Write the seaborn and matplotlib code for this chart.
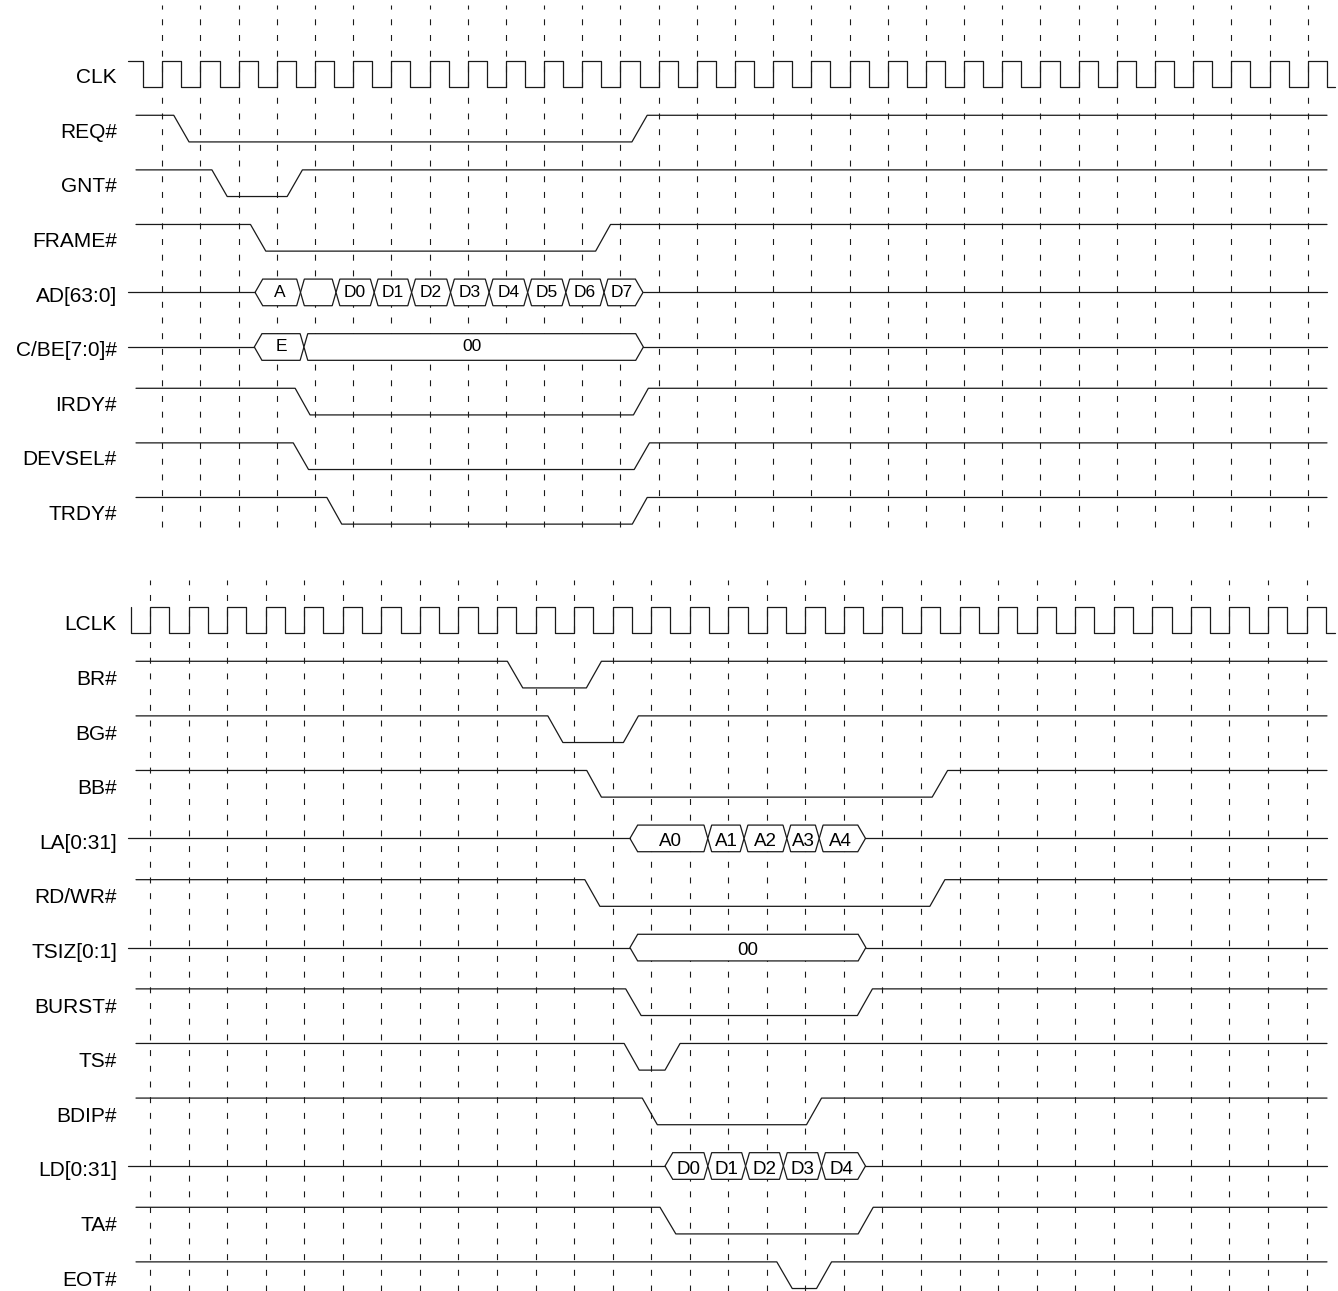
# Timing diagram: PCI burst read (top) vs local bus burst (bottom)
import numpy as np
import pandas as pd
import matplotlib
matplotlib.use("Agg")
import matplotlib.pyplot as plt
import seaborn as sns

# --- Data (times in clock periods, 0 = first rising edge) ---
# each digital signal starts high; edges are (start, end) of each slope
TOP_NAMES = ["CLK", "REQ#", "GNT#", "FRAME#", "AD[63:0]", "C/BE[7:0]#",
             "IRDY#", "DEVSEL#", "TRDY#"]
REQ_EDGES = [(0.3, 0.7), (12.3, 12.7)]
GNT_EDGES = [(1.3, 1.7), (3.27, 3.67)]
FRAME_EDGES = [(2.31, 2.71), (11.35, 11.74)]
IRDY_EDGES = [(3.48, 3.87), (12.34, 12.73)]
DEVSEL_EDGES = [(3.43, 3.83), (12.36, 12.76)]
TRDY_EDGES = [(4.31, 4.70), (12.31, 12.70)]
AD_TIMES = [2.53, 3.62, 4.55, 5.55, 6.53, 7.55, 8.56, 9.57, 10.57, 11.57, 12.49]
AD_VALUES = ["A", "", "D0", "D1", "D2", "D3", "D4", "D5", "D6", "D7"]
CBE_TIMES = [2.51, 3.71, 12.5]
CBE_VALUES = ["E", "00"]

BOT_NAMES = ["LCLK", "BR#", "BG#", "BB#", "LA[0:31]", "RD/WR#", "TSIZ[0:1]",
             "BURST#", "TS#", "BDIP#", "LD[0:31]", "TA#", "EOT#"]
BR_EDGES = [(9.27, 9.67), (11.32, 11.71)]
BG_EDGES = [(10.32, 10.71), (12.28, 12.67)]
BB_EDGES = [(11.33, 11.71), (20.29, 20.69)]
RDWR_EDGES = [(11.28, 11.67), (20.23, 20.62)]
BURST_EDGES = [(12.34, 12.74), (18.35, 18.74)]
TS_EDGES = [(12.30, 12.69), (13.36, 13.75)]
BDIP_EDGES = [(12.77, 13.16), (17.03, 17.42)]
TA_EDGES = [(13.23, 13.64), (18.37, 18.76)]
EOT_EDGES = [(16.26, 16.66), (17.29, 17.68)]
LA_TIMES = [12.55, 14.47, 15.41, 16.52, 17.36, 18.46]
LA_VALUES = ["A0", "A1", "A2", "A3", "A4"]
TSIZ_TIMES = [12.55, 18.47]
TSIZ_VALUES = ["00"]
LD_TIMES = [13.46, 14.47, 15.45, 16.43, 17.42, 18.46]
LD_VALUES = ["D0", "D1", "D2", "D3", "D4"]

N_CYCLES = 31

# --- Layout ---
W, H = 1338, 1291
ROW_PX = 54.6
ROW0_PX = 74.0
LEVEL = 0.244        # half swing in row units
HW = 0.1             # half width of a bus crossing
INK = "#1a1a1a"
LW = 0.9

sns.set_theme(style="white")
plt.rcParams['font.family'] = ['Liberation Sans', 'DejaVu Sans']
plt.rcParams['lines.scale_dashes'] = False

fig = plt.figure(figsize=(W / 100, H / 100), dpi=100)
ylim = (-(H - ROW0_PX) / ROW_PX, ROW0_PX / ROW_PX)


def make_axes(t0_px, period_px):
    ax = fig.add_axes([0, 0, 1, 1])
    xmin = -t0_px / period_px
    ax.set_xlim(xmin, xmin + W / period_px)
    ax.set_ylim(*ylim)
    ax.axis("off")
    ax.patch.set_alpha(0)
    return ax


def px_to_t(ax, px):
    x0, x1 = ax.get_xlim()
    return x0 + px / W * (x1 - x0)


def px_to_y(py):
    return ylim[1] - py / ROW_PX


def draw_line(ax, xs, ys):
    df = pd.DataFrame({"t": xs, "v": ys})
    sns.lineplot(data=df, x="t", y="v", sort=False, estimator=None,
                 color=INK, lw=LW, ax=ax, zorder=3)


def digital(ax, row, edges, t0, t1):
    hi, lo = -row + LEVEL, -row - LEVEL
    xs, ys = [t0], [hi]
    level = hi
    for a, b in edges:
        other = lo if level == hi else hi
        xs += [a, b]
        ys += [level, other]
        level = other
    xs.append(t1)
    ys.append(level)
    draw_line(ax, xs, ys)


def clock(ax, row, t0, t1, lead_high):
    hi, lo = -row + LEVEL, -row - LEVEL
    xs, ys = [], []
    if lead_high is not None:
        xs += [lead_high]
        ys += [hi]
    xs += [-0.5, -0.5]
    ys += [hi, lo]
    for n in range(N_CYCLES):
        xs += [n, n, n + 0.5, n + 0.5]
        ys += [lo, hi, hi, lo]
    xs.append(t1)
    ys.append(lo)
    draw_line(ax, xs, ys)


def bus(ax, row, times, values, t0, t1, fs, base_off):
    c = -row
    last = len(values) - 1
    draw_line(ax, [t0, times[0] - HW], [c, c])
    draw_line(ax, [times[-1] + HW, t1], [c, c])
    for i, val in enumerate(values):
        a, b = times[i], times[i + 1]
        a_tip = a - HW if i == 0 else a
        b_tip = b + HW if i == last else b
        px = [a_tip, a + HW, b - HW, b_tip, b - HW, a + HW, a_tip]
        py = [c, c + LEVEL, c + LEVEL, c, c - LEVEL, c - LEVEL, c]
        ax.fill(px, py, facecolor="white", edgecolor=INK, lw=LW, zorder=2)
        if val:
            ax.text((a + b) / 2, c - base_off, val, ha="center",
                    va="baseline", fontsize=fs, color="black", zorder=4)


def grid(ax, y_top_px, y_bot_px):
    ax.vlines(np.arange(N_CYCLES), px_to_y(y_bot_px), px_to_y(y_top_px),
              colors=INK, lw=0.8, linestyles=[(0, (4.3, 7.0))], zorder=1)


def labels(ax, names, first_row, base_off):
    for i, name in enumerate(names):
        ax.text(117 / W, -(first_row + i) - base_off, name, ha="right",
                va="baseline", fontsize=15, color="black",
                transform=ax.get_yaxis_transform())


# --- Top diagram (PCI) ---
ax = make_axes(162.3, 38.18)
grid(ax, 5, 527)
t_sig0, t_bus0, t_end = px_to_t(ax, 136), px_to_t(ax, 128), px_to_t(ax, 1327)
clock(ax, 0, px_to_t(ax, 128), px_to_t(ax, 1335), px_to_t(ax, 128))
digital(ax, 1, REQ_EDGES, t_sig0, t_end)
digital(ax, 2, GNT_EDGES, t_sig0, t_end)
digital(ax, 3, FRAME_EDGES, t_sig0, t_end)
bus(ax, 4, AD_TIMES, AD_VALUES, t_bus0, t_end, 12.5, 0.08)
bus(ax, 5, CBE_TIMES, CBE_VALUES, t_bus0, t_end, 12.5, 0.08)
digital(ax, 6, IRDY_EDGES, t_sig0, t_end)
digital(ax, 7, DEVSEL_EDGES, t_sig0, t_end)
digital(ax, 8, TRDY_EDGES, t_sig0, t_end)
labels(ax, TOP_NAMES, 0, 0.17)

# --- Bottom diagram (local bus) ---
ax = make_axes(150.0, 38.55)
grid(ax, 580, 1291)
t_sig0, t_bus0, t_end = px_to_t(ax, 136), px_to_t(ax, 128), px_to_t(ax, 1327)
clock(ax, 10, None, px_to_t(ax, 1335), None)
digital(ax, 11, BR_EDGES, t_sig0, t_end)
digital(ax, 12, BG_EDGES, t_sig0, t_end)
digital(ax, 13, BB_EDGES, t_sig0, t_end)
bus(ax, 14, LA_TIMES, LA_VALUES, t_bus0, t_end, 13.5, 0.14)
digital(ax, 15, RDWR_EDGES, t_sig0, t_end)
bus(ax, 16, TSIZ_TIMES, TSIZ_VALUES, t_bus0, t_end, 13.5, 0.14)
digital(ax, 17, BURST_EDGES, t_sig0, t_end)
digital(ax, 18, TS_EDGES, t_sig0, t_end)
digital(ax, 19, BDIP_EDGES, t_sig0, t_end)
bus(ax, 20, LD_TIMES, LD_VALUES, t_bus0, t_end, 13.5, 0.14)
digital(ax, 21, TA_EDGES, t_sig0, t_end)
digital(ax, 22, EOT_EDGES, t_sig0, t_end)
labels(ax, BOT_NAMES, 10, 0.19)

fig.savefig("out.png", dpi=100, facecolor="white")
